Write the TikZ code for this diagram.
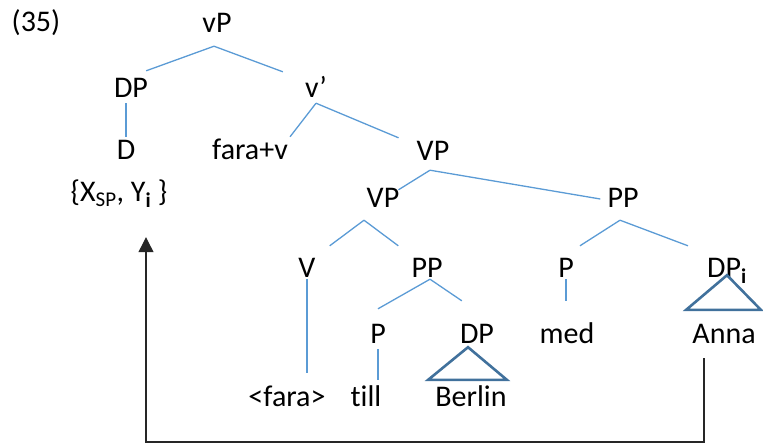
\documentclass[tikz,border=0pt]{standalone}
\usepackage{fontspec}
\setmainfont{Carlito}[Ligatures=NoCommon]
\usetikzlibrary{arrows.meta}
\definecolor{branchblue}{HTML}{5B9BD5}
\definecolor{roofblue}{HTML}{41719C}

\begin{document}
\begin{tikzpicture}[x=1pt,y=-1pt]
	\tikzset {lbl/.style={anchor=base, inner sep=2pt, text height=20pt, text depth=4pt, font=\fontsize{30}{36}\selectfont},
		branch/.style={draw=branchblue, line width=1.3pt},
		roof/.style={draw=roofblue, line width=2.6pt, line join=miter},
		move/.style={draw=black!85, line width=1.2pt, -{Triangle[length=15pt,width=15pt]}} }
	\useasboundingbox (0,0) rectangle (763,445);

	\node[lbl] (ex) at (36,31) {(35)};
	\node[lbl] (vP) at (217,32) {vP};
	\node[lbl] (DP) at (131,97) {DP};
	\node[lbl] (vbar) at (316,97) {v’};
	\node[lbl] (D) at (126,159) {D};
	\node[lbl] (farav) at (250,159) {fara+v};
	\node[lbl] (XY) at (119,201) {\{X\textsubscript{SP}, Y\textsubscript{\textbf{i}} \}};
	\node[lbl] (VP) at (433,160) {VP};
	\node[lbl] (VPb) at (383,207) {VP};
	\node[lbl] (PPa) at (623,207) {PP};
	\node[lbl] (V) at (307,277) {V};
	\node[lbl] (PPb) at (427,277) {PP};
	\node[lbl] (Pa) at (566,277) {P};
	\node[lbl] (DPi) at (727,277) {DP\textsubscript{\textbf{i}}};
	\node[lbl] (Pb) at (378,343) {P};
	\node[lbl] (DPb) at (477,343) {DP};
	\node[lbl] (med) at (567,343) {med};
	\node[lbl] (Anna) at (724,343) {Anna};
	\node[lbl] (fara) at (287,406) {<fara>};
	\node[lbl] (till) at (366,406) {till};
	\node[lbl] (Berlin) at (471,406) {Berlin};

	% branches
	\draw[branch] ([xshift=-3pt,yshift=-8pt]vP.south) -- ([xshift=-4pt,yshift=4pt]DP.north east);
	\draw[branch] ([xshift=-3pt,yshift=-8pt]vP.south) -- ([xshift=-20pt,yshift=3pt]vbar.north west);
	\draw[branch] (D.north |- DP.south) -- (D.north);
	\draw[branch] (vbar.south) -- (farav.north east);
	\draw[branch] (vbar.south) -- ([xshift=-16pt]VP.north west);
	\draw[branch] ([xshift=-3pt,yshift=-4pt]VP.south) -- ([xshift=-3pt,yshift=-5pt]VPb.north east);
	\draw[branch] ([xshift=-3pt,yshift=-4pt]VP.south) -- ([xshift=-5pt]PPa.west);
	\draw[branch] ([xshift=-3pt,yshift=-7pt]PPa.south) -- ([xshift=4pt,yshift=9pt]Pa.north east);
	\draw[branch] ([xshift=-3pt,yshift=-7pt]PPa.south) -- ([xshift=-17pt,yshift=9pt]DPi.north west);
	\draw[branch] ([xshift=-19pt,yshift=-7pt]VPb.south) -- ([xshift=12pt,yshift=9pt]V.north east);
	\draw[branch] ([xshift=-19pt,yshift=-7pt]VPb.south) -- ([xshift=-11pt,yshift=9pt]PPb.north west);
	\draw[branch] ([xshift=3pt,yshift=4pt]PPb.south) -- ([yshift=12pt]Pb.north);
	\draw[branch] ([xshift=3pt,yshift=4pt]PPb.south) -- ([xshift=4pt,yshift=20pt]DPb.north west);
	\draw[branch, shorten >=11pt, shorten <=-4pt] (V.south) -- (V.south |- fara.north);
	\draw[branch, shorten >=4pt] (Pb.south) -- (Pb.south |- till.north);
	\draw[branch, shorten >=20pt, shorten <=-4pt] (Pa.south) -- (Pa.south |- med.north);

	% roofs
	\draw[roof] ([xshift=-9pt,yshift=2pt]DPb.south) -- ([xshift=-5pt,yshift=4pt]Berlin.north west) -- ([xshift=-2pt,yshift=4pt]Berlin.north east) -- cycle;
	\draw[roof] ([yshift=8pt]DPi.south) -- ([xshift=-4pt,yshift=11pt]Anna.north west) -- ([xshift=3pt,yshift=11pt]Anna.north east) -- cycle;

	% movement
	\coordinate (low) at (146,442);
	\draw[move] ([xshift=-20pt,yshift=-9pt]Anna.south) |- (low) -- ([xshift=27pt,yshift=-30pt]XY.south);
\end{tikzpicture}
\end{document}
